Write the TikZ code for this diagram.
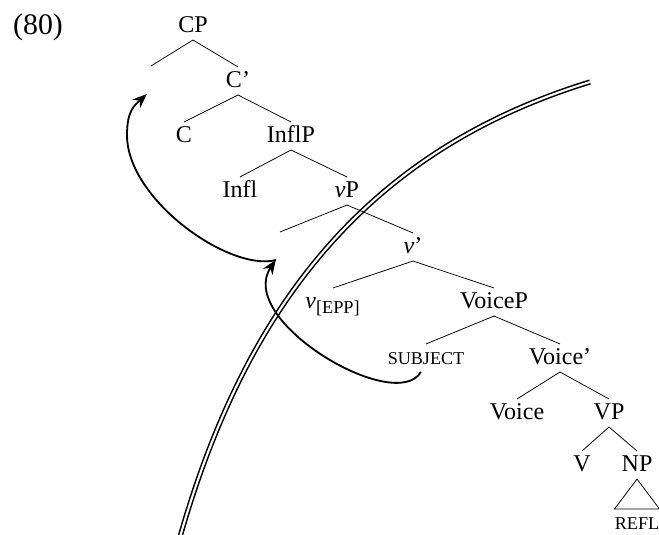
\documentclass[tikz,border=0pt,12pt]{standalone}
\usepackage{fontspec}
\setmainfont{Liberation Serif}
\usetikzlibrary{arrows.meta}
\newcommand{\smallcap}[1]{{\fontsize{9.4}{11}\selectfont #1}}

\begin{document}
\begin{tikzpicture}[x=0.52pt, y=0.52pt, >={Stealth[length=7.5pt,width=6pt,inset=2.5pt]},
                    font=\fontsize{12.5}{15}\selectfont,
                    tree node/.style={inner sep=2pt, text height=1.55ex, text depth=.3ex},
                    move/.style={->, line width=0.95pt}]
  \useasboundingbox (0,0) rectangle (659,-535);

  % phase boundary
  \draw[double, double distance=1.1pt, line width=0.8pt]
    (180,-537) .. controls (245,-309) and (365,-151) .. (590,-82);

  \node[font=\fontsize{15.5}{18}\selectfont] (ex) at (38,-27) {(80)};

  \node[tree node] (CP) at (193,-26) {CP};
  \node[tree node] (spCP) at (151,-80) {};
  \node[tree node] (Cbar) at (238,-81) {C'};
  \node[tree node] (C) at (184,-136) {C};
  \node[tree node] (InflP) at (291,-136) {InflP};
  \node[tree node] (Infl) at (240,-191) {Infl};
  \node[tree node] (vP) at (347,-191) {\textit{v}P};
  \node[tree node] (spvP) at (280,-246) {};
  \node[tree node] (vbar) at (413,-247) {\textit{v}'};
  \node[tree node] (vEPP) at (333,-302) {\textit{v}\textsubscript{\fontsize{9.5}{11}\selectfont[EPP]}};
  \node[tree node] (VoiceP) at (494,-302) {VoiceP};
  \node[tree node] (SUBJ) at (426,-358) {\smallcap{SUBJECT}};
  \node[tree node] (Voicebar) at (560,-358) {Voice'};
  \node[tree node] (Voice) at (517,-413) {Voice};
  \node[tree node] (VP) at (609,-413) {VP};
  \node[tree node] (V) at (582,-465) {V};
  \node[tree node] (NP) at (637,-465) {NP};
  \node[tree node, inner xsep=0pt] (REFL) at (637,-523) {\smallcap{REFL}};

  \path[thin]
    (CP.south) edge (spCP.north)
               edge (Cbar.north)
    (Cbar.south) edge (C.north)
                 edge (InflP.north)
    (InflP.south) edge (Infl.north)
                  edge (vP.north)
    (vP.south) edge (spvP.north)
               edge (vbar.north)
    (vbar.south) edge (vEPP.north)
                 edge (VoiceP.north)
    (VoiceP.south) edge (SUBJ.north)
                   edge (Voicebar.north)
    (Voicebar.south) edge (Voice.north)
                     edge (VP.north)
    (VP.south) edge (V.north)
               edge (NP.north);
  \draw[thin] (NP.south) -- (REFL.north west) -- (REFL.north east) -- cycle;

  % movement
  \draw[move] (SUBJ.250) .. controls (395,-415) and (235,-320) .. (spvP.south west);
  \draw[move] (spvP.south west) .. controls (230,-272) and (127,-200) .. (127,-135)
    .. controls (127,-110) and (135,-105) .. (spCP.south west);
\end{tikzpicture}
\end{document}
